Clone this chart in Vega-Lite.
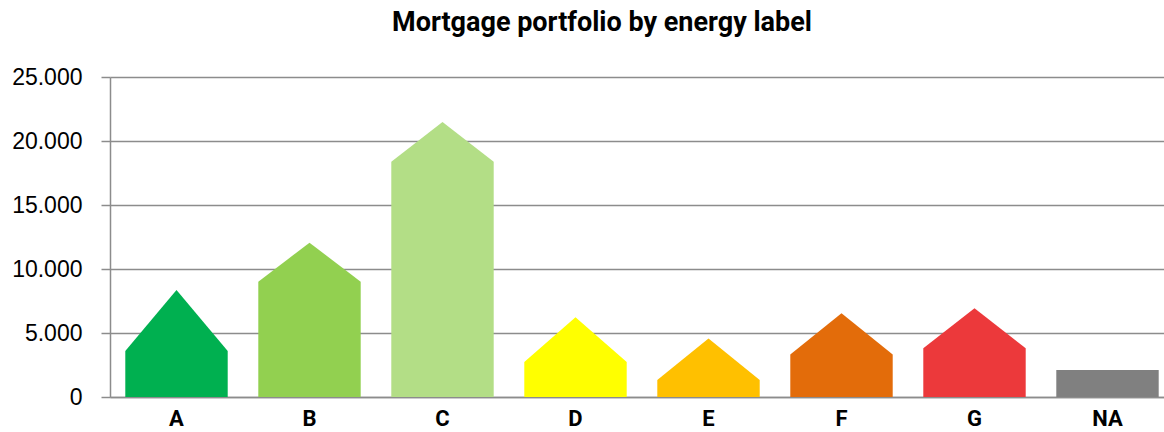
{
  "$schema": "https://vega.github.io/schema/vega-lite/v6.json",
  "autosize": {"type": "none"},
  "width": 1054,
  "height": 320,
  "padding": {"left": 110, "top": 77, "right": 0, "bottom": 35},
  "title": {
    "text": "Mortgage portfolio by energy label",
    "font": "Roboto",
    "fontSize": 27,
    "fontWeight": "bold",
    "color": "#000000",
    "anchor": "middle",
    "baseline": "alphabetic",
    "offset": 8,
    "dx": -35
  },
  "data": {
    "values": [
      {"label": "A", "part": "left", "top": 3590},
      {"label": "A", "part": "peak", "top": 8360},
      {"label": "A", "part": "right", "top": 3590},
      {"label": "B", "part": "left", "top": 9010},
      {"label": "B", "part": "peak", "top": 12055},
      {"label": "B", "part": "right", "top": 9010},
      {"label": "C", "part": "left", "top": 18380},
      {"label": "C", "part": "peak", "top": 21480},
      {"label": "C", "part": "right", "top": 18380},
      {"label": "D", "part": "left", "top": 2730},
      {"label": "D", "part": "peak", "top": 6230},
      {"label": "D", "part": "right", "top": 2730},
      {"label": "E", "part": "left", "top": 1330},
      {"label": "E", "part": "peak", "top": 4580},
      {"label": "E", "part": "right", "top": 1330},
      {"label": "F", "part": "left", "top": 3330},
      {"label": "F", "part": "peak", "top": 6540},
      {"label": "F", "part": "right", "top": 3330},
      {"label": "G", "part": "left", "top": 3800},
      {"label": "G", "part": "peak", "top": 6930},
      {"label": "G", "part": "right", "top": 3800},
      {"label": "NA", "part": "left", "top": 2110},
      {"label": "NA", "part": "peak", "top": 2110},
      {"label": "NA", "part": "right", "top": 2110}
    ]
  },
  "mark": {"type": "area", "opacity": 1},
  "encoding": {
    "x": {
      "field": "label",
      "type": "nominal",
      "sort": ["A", "B", "C", "D", "E", "F", "G", "NA"],
      "scale": {"range": [0, 1064], "paddingInner": 0.23, "paddingOuter": 0.115},
      "axis": {
        "title": null,
        "labelAngle": 0,
        "ticks": false,
        "domain": true,
        "domainColor": "#8c8c8c",
        "domainWidth": 1.5,
        "labelFont": "Roboto",
        "labelFontWeight": "bold",
        "labelFontSize": 22,
        "labelColor": "#000000",
        "labelPadding": 11
      }
    },
    "xOffset": {
      "field": "part",
      "type": "nominal",
      "scale": {"type": "point", "padding": 0, "domain": ["left", "peak", "right"]}
    },
    "y": {
      "field": "top",
      "type": "quantitative",
      "scale": {"domain": [0, 25000], "nice": false},
      "axis": {
        "title": null,
        "values": [0, 5000, 10000, 15000, 20000, 25000],
        "labelExpr": "replace(format(datum.value, ','), ',', '.')",
        "grid": true,
        "gridColor": "#8c8c8c",
        "gridWidth": 1.5,
        "domain": true,
        "domainColor": "#8c8c8c",
        "domainWidth": 1.5,
        "ticks": true,
        "tickSize": 9,
        "tickColor": "#8c8c8c",
        "tickWidth": 1.5,
        "labelFont": "Liberation Sans",
        "labelFontSize": 23,
        "labelColor": "#000000",
        "labelPadding": 19
      }
    },
    "y2": {"datum": 0},
    "color": {
      "field": "label",
      "type": "nominal",
      "legend": null,
      "scale": {
        "domain": ["A", "B", "C", "D", "E", "F", "G", "NA"],
        "range": ["#00b050", "#92d050", "#b3de86", "#ffff00", "#ffc000", "#e36c0a", "#ec393b", "#808080"]
      }
    }
  },
  "config": {"view": {"stroke": null}}
}
